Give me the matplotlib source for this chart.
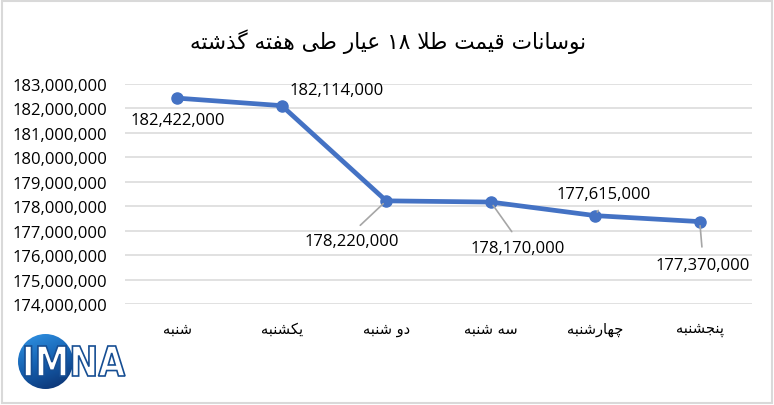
import re

import matplotlib
matplotlib.use("Agg")
import matplotlib.pyplot as plt
import numpy as np
from matplotlib.colors import LinearSegmentedColormap
from matplotlib.font_manager import FontProperties
from matplotlib.patches import Circle, PathPatch, Rectangle
from matplotlib.textpath import TextPath
from matplotlib.ticker import FuncFormatter
from matplotlib.transforms import Affine2D

# data
days = ["شنبه", "یکشنبه", "دو شنبه", "سه شنبه", "چهارشنبه", "پنجشنبه"]
prices = [182422000, 182114000, 178220000, 178170000, 177615000, 177370000]
y_ticks = list(range(174000000, 183000001, 1000000))
title = "نوسانات قیمت طلا ۱۸ عیار طی هفته گذشته"

# label placement (pixels from the point) and whether it has a leader line
label_offsets = [(1, -22), (55, 16), (-34, -40), (27, -46), (8, 22), (3, -43)]
has_leader = [False, False, True, True, True, True]

W, H = 774, 406

# matplotlib does no arabic shaping, so pick presentation forms by hand
# (isolated, final, initial, medial)
FORMS = {
    "\u0627": ("\uFE8D", "\uFE8E", None, None),
    "\u0628": ("\uFE8F", "\uFE90", "\uFE91", "\uFE92"),
    "\u062A": ("\uFE95", "\uFE96", "\uFE97", "\uFE98"),
    "\u062C": ("\uFE9D", "\uFE9E", "\uFE9F", "\uFEA0"),
    "\u062F": ("\uFEA9", "\uFEAA", None, None),
    "\u0630": ("\uFEAB", "\uFEAC", None, None),
    "\u0631": ("\uFEAD", "\uFEAE", None, None),
    "\u0633": ("\uFEB1", "\uFEB2", "\uFEB3", "\uFEB4"),
    "\u0634": ("\uFEB5", "\uFEB6", "\uFEB7", "\uFEB8"),
    "\u0637": ("\uFEC1", "\uFEC2", "\uFEC3", "\uFEC4"),
    "\u0639": ("\uFEC9", "\uFECA", "\uFECB", "\uFECC"),
    "\u0641": ("\uFED1", "\uFED2", "\uFED3", "\uFED4"),
    "\u0642": ("\uFED5", "\uFED6", "\uFED7", "\uFED8"),
    "\u0644": ("\uFEDD", "\uFEDE", "\uFEDF", "\uFEE0"),
    "\u0645": ("\uFEE1", "\uFEE2", "\uFEE3", "\uFEE4"),
    "\u0646": ("\uFEE5", "\uFEE6", "\uFEE7", "\uFEE8"),
    "\u0647": ("\uFEE9", "\uFEEA", "\uFEEB", "\uFEEC"),
    "\u0648": ("\uFEED", "\uFEEE", None, None),
    "\u067E": ("\uFB56", "\uFB57", "\uFB58", "\uFB59"),
    "\u0686": ("\uFB7A", "\uFB7B", "\uFB7C", "\uFB7D"),
    "\u06A9": ("\uFB8E", "\uFB8F", "\uFB90", "\uFB91"),
    "\u06AF": ("\uFB92", "\uFB93", "\uFB94", "\uFB95"),
    "\u06CC": ("\uFBFC", "\uFBFD", "\uFBFE", "\uFBFF"),
    "\uFEFB": ("\uFEFB", "\uFEFC", None, None),
}


def fa(text):
    text = text.replace("\u0644\u0627", "\uFEFB")
    out = []
    for i, c in enumerate(text):
        if c not in FORMS:
            out.append(c)
            continue
        prev = text[i - 1] if i > 0 else ""
        nxt = text[i + 1] if i + 1 < len(text) else ""
        jp = prev in FORMS and FORMS[prev][2] is not None
        jn = nxt in FORMS and FORMS[c][2] is not None
        iso, fin, ini, med = FORMS[c]
        if jp and jn:
            out.append(med)
        elif jp:
            out.append(fin)
        elif jn:
            out.append(ini)
        else:
            out.append(iso)
    vis = "".join(out)[::-1]
    return re.sub(r"[0-9\u06F0-\u06F9]+", lambda m: m.group(0)[::-1], vis)


fig = plt.figure(figsize=(W / 100, H / 100), dpi=100)
ax = fig.add_axes([125 / W, 1 - 305 / H, 627 / W, 220 / H])

x = list(range(len(days)))
ax.plot(x, prices, color="#4472C4", lw=3.4, marker="o", ms=8, zorder=3,
        solid_capstyle="round", solid_joinstyle="round")

ax.set_xlim(-0.5, len(days) - 0.5)
ax.set_ylim(y_ticks[0], y_ticks[-1])
ax.set_yticks(y_ticks)
ax.yaxis.set_major_formatter(FuncFormatter(lambda v, p: f"{int(v):,}"))
ax.set_xticks(x)
ax.set_xticklabels([fa(d) for d in days], family="DejaVu Sans", fontsize=10.5)
ax.grid(axis="y", color="#d9d9d9", lw=1.1)
ax.set_axisbelow(True)
for s in ax.spines.values():
    s.set_visible(False)
ax.tick_params(length=0, colors="#000000")
ax.tick_params(axis="y", pad=13)
ax.tick_params(axis="x", pad=12)
for lab in ax.get_yticklabels():
    lab.set_family("Open Sans")
    lab.set_fontsize(12)

for i, (v, off, lead) in enumerate(zip(prices, label_offsets, has_leader)):
    arrow = None
    if lead:
        rel = (0.5, 1.0) if off[1] < 0 else (0.5, 0.0)
        arrow = dict(arrowstyle="-", color="#a6a6a6", lw=1.2,
                     shrinkA=5, shrinkB=3, relpos=rel)
    ax.annotate(f"{v:,}", xy=(i, v), xytext=off, textcoords="offset pixels",
                ha="center", va="center", family="Open Sans", fontsize=12,
                arrowprops=arrow)

fig.text(388 / W, 1 - 42 / H, fa(title), family="DejaVu Sans", fontsize=15.6,
         ha="center", va="center")

# chart frame
fig.add_artist(Rectangle((2 / W, 2 / H), (W - 4) / W, (H - 4) / H, fill=False,
                         edgecolor="#d9d9d9", lw=1.5, transform=fig.transFigure))

# IMNA logo: gradient disc plus outlined letters
logo_ax = fig.add_axes([18 / W, (H - 390) / H, 55 / W, 55 / H])
logo_ax.axis("off")
grad = np.linspace(0, 1, 64)[:, None] * np.ones((1, 64))
grad = grad + np.linspace(0, 0.4, 64)[None, :]
cmap = LinearSegmentedColormap.from_list("imna", ["#3195e6", "#1560b0", "#0b2e6b"])
im = logo_ax.imshow(grad, cmap=cmap, extent=(0, 1, 0, 1), aspect="auto")
im.set_clip_path(Circle((0.5, 0.5), 0.5, transform=logo_ax.transData))

px = Affine2D().scale(1 / W, 1 / H) + fig.transFigure
tp = TextPath((0, 0), "IMNA", size=1,
              prop=FontProperties(family="DejaVu Sans", weight="bold"))
ext = tp.get_extents()
sx = 100 / ext.width
sy = 30 / ext.height
logo_tr = Affine2D().translate(-ext.x0, -ext.y0).scale(sx, sy).translate(25, H - 377) + px
fig.add_artist(PathPatch(tp, facecolor="white", edgecolor="#164e93", lw=1.2,
                         transform=logo_tr, zorder=5))

plt.savefig("out.png", dpi=100)
